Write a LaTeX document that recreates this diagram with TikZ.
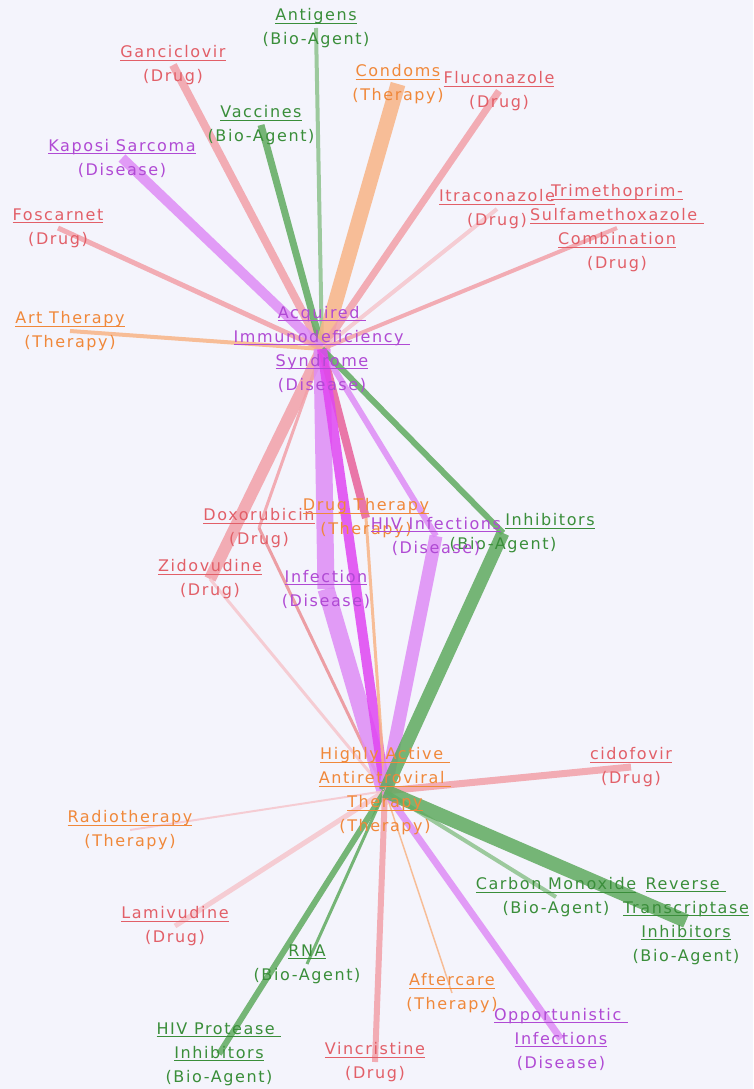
\documentclass[tikz,border=0pt]{standalone}
\usepackage{fontspec}
\newfontfamily\lblfont[LetterSpace=10]{DejaVu Sans}
\definecolor{bgcol}{HTML}{F4F4FC}
\definecolor{drugtext}{HTML}{E25F68}
\definecolor{drugline}{HTML}{F2A0A8}
\definecolor{druglight}{HTML}{F6C6CC}
\definecolor{distext}{HTML}{B04AD4}
\definecolor{disline}{HTML}{DE8CF6}
\definecolor{dismag}{HTML}{E046F2}
\definecolor{biotext}{HTML}{3A8E3A}
\definecolor{bioline}{HTML}{5FAA5F}
\definecolor{biolight}{HTML}{8DC28D}
\definecolor{thertext}{HTML}{F0883A}
\definecolor{therline}{HTML}{F8B486}
\definecolor{mixline}{HTML}{E8609A}
\pgfdeclarelayer{bg}
\pgfdeclarelayer{edges}
\pgfsetlayers{bg,edges,main}
% name line with a fixed underline
\newcommand\lname[1]{\setbox0\hbox{#1}\rlap{\rule[-3pt]{\wd0}{0.9pt}}\box0}
\tikzset{
  lbl/.style={align=center, inner sep=0pt, font=\lblfont\fontsize{16}{24}\selectfont},
  drug/.style={lbl, text=drugtext},
  disease/.style={lbl, text=distext},
  bioagent/.style={lbl, text=biotext},
  therapy/.style={lbl, text=thertext},
  wire/.style={line width=#1pt, opacity=.85},
  drugedge/.style={wire=#1, draw=drugline},
  drugfaint/.style={wire=#1, draw=druglight},
  disedge/.style={wire=#1, draw=disline},
  bioedge/.style={wire=#1, draw=bioline},
  biofaint/.style={wire=#1, draw=biolight},
  theredge/.style={wire=#1, draw=therline}
}
\begin{document}
\begin{tikzpicture}[x=1pt,y=-1pt]
  \begin{pgfonlayer}{bg}
    \fill[bgcol] (0,0) rectangle (753,1089);
  \end{pgfonlayer}
  \useasboundingbox (0,0) rectangle (753,1089);

  % hubs
  \node[disease] (aids) at (322,349) {\lname{Acquired\ }\\\lname{Immunodeficiency\ }\\\lname{Syndrome}\\(Disease)};
  \node[therapy] (haart) at (385,791) {\lname{Highly Active\ }\\\lname{Antiretroviral\ }\\\lname{Therapy}\\(Therapy)};

  % upper ring
  \node[bioagent] (antigens) at (316,28) {\lname{Antigens}\\(Bio-Agent)};
  \node[drug] (ganciclovir) at (173,65) {\lname{Ganciclovir}\\(Drug)};
  \node[therapy] (condoms) at (398,84) {\lname{Condoms}\\(Therapy)};
  \node[drug] (fluconazole) at (499,91) {\lname{Fluconazole}\\(Drug)};
  \node[bioagent] (vaccines) at (261,125) {\lname{Vaccines}\\(Bio-Agent)};
  \node[disease] (kaposi) at (122,158) {\lname{Kaposi Sarcoma}\\(Disease)};
  \node[drug] (itraconazole) at (497,209) {\lname{Itraconazole}\\(Drug)};
  \node[drug] (trimethoprim) at (617,228) {\lname{Trimethoprim-}\\\lname{Sulfamethoxazole\ }\\\lname{Combination}\\(Drug)};
  \node[drug] (foscarnet) at (58,228) {\lname{Foscarnet}\\(Drug)};
  \node[therapy] (arttherapy) at (70,331) {\lname{Art Therapy}\\(Therapy)};

  % middle
  \node[drug] (doxorubicin) at (259,528) {\lname{Doxorubicin}\\(Drug)};
  \node[therapy] (drugtherapy) at (366,518) {\lname{Drug Therapy}\\(Therapy)};
  \node[bioagent] (inhibitors) at (503,533) {\hspace*{94pt}\lname{Inhibitors}\\(Bio-Agent)};
  \node[disease] (hivinf) at (436,536) {\lname{HIV Infections}\\(Disease)};
  \node[drug] (zidovudine) at (210,579) {\lname{Zidovudine}\\(Drug)};
  \node[disease] (infection) at (326,589) {\lname{Infection}\\(Disease)};

  % lower ring
  \node[drug] (cidofovir) at (631,767) {\lname{cidofovir}\\(Drug)};
  \node[therapy] (radiotherapy) at (130,830) {\lname{Radiotherapy}\\(Therapy)};
  \node[bioagent] (carbon) at (556,897) {\lname{Carbon Monoxide}\\(Bio-Agent)};
  \node[bioagent] (rti) at (686,921) {\lname{Reverse\ }\\\lname{Transcriptase}\\\lname{Inhibitors}\\(Bio-Agent)};
  \node[drug] (lamivudine) at (175,926) {\lname{Lamivudine}\\(Drug)};
  \node[bioagent] (rna) at (307,964) {\lname{RNA}\\(Bio-Agent)};
  \node[therapy] (aftercare) at (452,993) {\lname{Aftercare}\\(Therapy)};
  \node[disease] (opportunistic) at (561,1039) {\lname{Opportunistic\ }\\\lname{Infections}\\(Disease)};
  \node[bioagent] (protease) at (219,1054) {\lname{HIV Protease\ }\\\lname{Inhibitors}\\(Bio-Agent)};
  \node[drug] (vincristine) at (375,1062) {\lname{Vincristine}\\(Drug)};

  \begin{pgfonlayer}{edges}
    % edges of the upper hub
    \draw[biofaint=4] (aids.center) -- (antigens.center);
    \draw[drugedge=8] (aids.center) -- (ganciclovir.center);
    \draw[bioedge=7] (aids.center) -- (vaccines.center);
    \draw[theredge=15] (aids.center) -- (condoms.center);
    \draw[drugedge=7] (aids.center) -- (fluconazole.center);
    \draw[disedge=10] (aids.center) -- (kaposi.center);
    \draw[drugfaint=4] (aids.center) -- (itraconazole.center);
    \draw[drugedge=4] (aids.center) -- (trimethoprim.center);
    \draw[drugedge=5] (aids.center) -- (foscarnet.center);
    \draw[theredge=4] (aids.center) -- (arttherapy.center);
    % edges through the middle
    \draw[drugedge=12] (aids.center) -- (zidovudine.center);
    \draw[drugedge=3] (aids.center) -- (doxorubicin.center);
    \draw[disedge=17] (aids.center) -- (infection.center);
    \draw[wire=8, draw=mixline] (aids.center) -- (drugtherapy.center);
    \draw[disedge=6] (aids.center) -- (hivinf.center);
    \draw[bioedge=6] (aids.center) -- (inhibitors.center);
    \draw[drugfaint=3] (zidovudine.center) -- (haart.center);
    \draw[wire=3, draw=drugtext!70] (doxorubicin.center) -- (haart.center);
    \draw[disedge=17] (infection.center) -- (haart.center);
    \draw[wire=10, draw=dismag] (aids.center) -- (haart.center);
    \draw[theredge=3] (drugtherapy.center) -- (haart.center);
    \draw[disedge=13] (hivinf.center) -- (haart.center);
    \draw[bioedge=13] (inhibitors.center) -- (haart.center);
    % edges of the lower hub
    \draw[drugedge=7] (haart.center) -- (cidofovir.center);
    \draw[drugfaint=2] (haart.center) -- (radiotherapy.center);
    \draw[drugfaint=5] (haart.center) -- (lamivudine.center);
    \draw[bioedge=3] (haart.center) -- (rna.center);
    \draw[bioedge=6] (haart.center) -- (protease.center);
    \draw[drugedge=6] (haart.center) -- (vincristine.center);
    \draw[theredge=1.5] (haart.center) -- (aftercare.center);
    \draw[disedge=7] (haart.center) -- (opportunistic.center);
    \draw[biofaint=4] (haart.center) -- (carbon.center);
    \draw[bioedge=14] (haart.center) -- (rti.center);
  \end{pgfonlayer}
\end{tikzpicture}
\end{document}
